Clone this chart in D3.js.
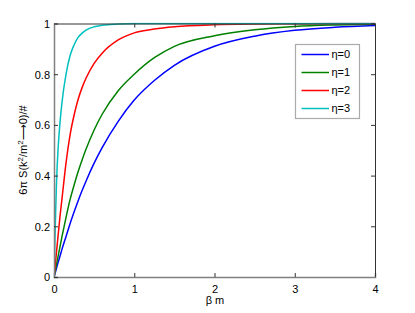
<!DOCTYPE html>
<html><head><meta charset="utf-8">
<script src="https://cdn.jsdelivr.net/npm/d3@7"></script>
<style>body{margin:0;background:#fff}svg{display:block}text{font-family:"Liberation Sans",Arial,Helvetica,sans-serif}</style>
</head><body><svg id="c" width="415" height="313"></svg>
<script>
const xs    = [0, 0.01, 0.02, 0.03, 0.04, 0.05, 0.075, 0.1, 0.15, 0.2, 0.25, 0.3, 0.35, 0.4, 0.5, 0.6, 0.8, 1.0, 1.25, 1.5, 2.0, 2.5, 3.0, 3.5, 4.0];
const eta0  = [0, 0.011, 0.022, 0.033, 0.045, 0.056, 0.083, 0.11, 0.16, 0.21, 0.256, 0.30, 0.341, 0.379, 0.449, 0.51, 0.614, 0.698, 0.775, 0.835, 0.91, 0.95, 0.973, 0.985, 0.992];
const eta1  = [0, 0.016, 0.032, 0.048, 0.064, 0.08, 0.12, 0.16, 0.235, 0.305, 0.362, 0.415, 0.462, 0.505, 0.58, 0.642, 0.735, 0.80, 0.865, 0.91, 0.952, 0.975, 0.988, 0.994, 0.997];
const eta2  = [0, 0.032, 0.064, 0.096, 0.128, 0.16, 0.24, 0.31, 0.45, 0.56, 0.638, 0.70, 0.747, 0.785, 0.843, 0.883, 0.935, 0.963, 0.978, 0.987, 0.995, 0.998, 0.999, 1.0, 1.0];
const eta3  = [0, 0.12, 0.25, 0.36, 0.44, 0.50, 0.61, 0.69, 0.80, 0.873, 0.915, 0.945, 0.962, 0.974, 0.987, 0.993, 0.998, 1.0, 1.0, 1.0, 1.0, 1.0, 1.0, 1.0, 1.0];
const seriesNames = ["\u03b7=0", "\u03b7=1", "\u03b7=2", "\u03b7=3"];
const seriesColors = ["#0000ff", "#008000", "#ff0000", "#00bfbf"];
const xTicks = [0, 1, 2, 3, 4];
const yTicks = [0, 0.2, 0.4, 0.6, 0.8, 1];
const yTickLabels = ["0", "0.2", "0.4", "0.6", "0.8", "1"];

const series = [eta0, eta1, eta2, eta3];
const svg = d3.select("#c");
const L = 54, R = 375, T = 23.5, B = 277;
const x = d3.scaleLinear().domain([0, 4]).range([L, R]);
const y = d3.scaleLinear().domain([0, 1]).range([B, T]);

svg.append("defs").append("clipPath").attr("id","clip").append("rect")
  .attr("x", L).attr("y", T - 1).attr("width", R - L).attr("height", B - T + 1);

const line = d3.line().x((d,i) => x(xs[i])).y(d => y(d)).curve(d3.curveMonotoneX);
const g = svg.append("g").attr("clip-path","url(#clip)");
series.forEach((s, k) => {
  g.append("path").datum(s).attr("d", line).attr("fill","none")
   .attr("stroke", seriesColors[k]).attr("stroke-width", 1.5);
});

// axes box
const tl = 4;
const axB = d3.axisBottom(x).tickValues(xTicks).tickSize(-tl).tickFormat(d3.format("d"));
const axT = d3.axisTop(x).tickValues(xTicks).tickSize(-tl).tickFormat("");
const axL = d3.axisLeft(y).tickValues(yTicks).tickSize(-tl).tickFormat((d,i) => yTickLabels[i]);
const axR = d3.axisRight(y).tickValues(yTicks).tickSize(-tl).tickFormat("");
function style(sel, col, w) {
  sel.select(".domain").attr("stroke", col).attr("stroke-width", w);
  sel.selectAll(".tick line").attr("stroke", "#333").attr("stroke-width", 1);
  sel.selectAll(".tick text").attr("fill", "#000").style("font-size", "11px")
     .style("font-family", '"Liberation Sans", Arial, sans-serif');
}
const gT = svg.append("g").attr("transform", `translate(0,${T})`).call(axT); style(gT, "#333", 1);
const gR = svg.append("g").attr("transform", `translate(${R},0)`).call(axR); style(gR, "#333", 1);
const gB = svg.append("g").attr("transform", `translate(0,${B})`).call(axB); style(gB, "#808080", 1.5);
const gL = svg.append("g").attr("transform", `translate(${L},0)`).call(axL); style(gL, "#808080", 1.5);
svg.selectAll(".domain").attr("fill","none");
gB.selectAll(".tick text").attr("y", 8).attr("dy", "0.71em");
gL.selectAll(".tick text").attr("x", -4).attr("dy", "0.36em");

// labels
svg.append("text").attr("x", 215).attr("y", 304).attr("text-anchor","middle")
  .style("font-size","11px").text("\u03b2 m");
const yl = svg.append("text").attr("transform", "translate(27,150) rotate(-90)")
  .attr("text-anchor","middle").style("font-size","11px");
yl.append("tspan").text("6\u03c0 S(k");
yl.append("tspan").attr("dy", -4).style("font-size","8px").text("2");
yl.append("tspan").attr("dy", 4).text("/m");
yl.append("tspan").attr("dy", -4).style("font-size","8px").text("2");
yl.append("tspan").attr("dy", 4).text("\u27f60)/#");

// legend
const lg = svg.append("g");
lg.append("rect").attr("x", 295.5).attr("y", 44.5).attr("width", 64).attr("height", 74)
  .attr("fill","#fff").attr("stroke","#aaa").attr("stroke-width", 1.2);
const ly = [54.5, 72.5, 90.5, 108.5];
seriesNames.forEach((n, k) => {
  lg.append("line").attr("x1", 301.5).attr("x2", 329).attr("y1", ly[k]).attr("y2", ly[k])
    .attr("stroke", seriesColors[k]).attr("stroke-width", 1.5);
  lg.append("text").attr("x", 331.5).attr("y", ly[k]).attr("dy","0.36em")
    .style("font-size","11px").text(n);
});
</script></body></html>
